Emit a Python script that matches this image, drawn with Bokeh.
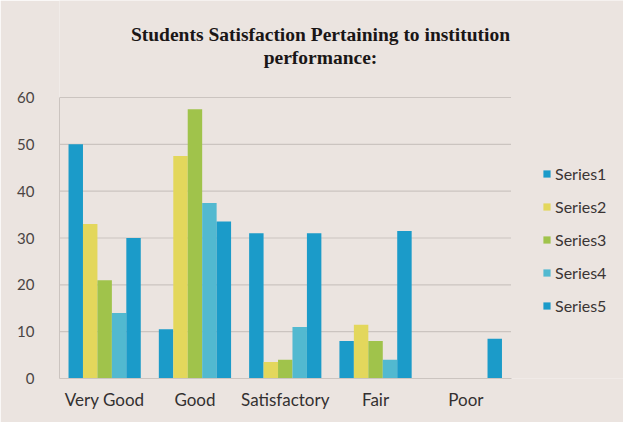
from bokeh.plotting import figure
from bokeh.models import ColumnDataSource, Legend, LegendItem, Label, Range1d, FixedTicker
from bokeh.transform import dodge
from bokeh.embed import file_html
from bokeh.resources import INLINE

categories = ["Very Good", "Good", "Satisfactory", "Fair", "Poor"]
series_names = ["Series1", "Series2", "Series3", "Series4", "Series5"]
series1 = [50, 10.5, 31, 8, 0]
series2 = [33, 47.5, 3.5, 11.5, 0]
series3 = [21, 57.5, 4, 8, 0]
series4 = [14, 37.5, 11, 4, 0]
series5 = [30, 33.5, 31, 31.5, 8.5]
y_ticks = [0, 10, 20, 30, 40, 50, 60]
colors = ["#1b9bc9", "#e3d75c", "#a0c34b", "#52b9d0", "#1b9bc9"]

BG = "#ebe4e0"
GRID = "#cbc4c0"
xi = list(range(len(categories)))
src = ColumnDataSource(dict(xi=xi, s1=series1, s2=series2, s3=series3, s4=series4, s5=series5))

W, H = 623, 422
left, bottom = 59, 44
cat_px = 90.3
y_px = (378 - 97) / 60.0
x_start = -0.5
x_end = x_start + (W - left) / cat_px
y_end = (H - bottom) / y_px

p = figure(width=W, height=H, x_range=Range1d(x_start, x_end), y_range=Range1d(0, y_end),
           output_backend="svg", toolbar_location=None,
           min_border_left=left, min_border_right=0, min_border_top=0, min_border_bottom=bottom)
p.title = None
p.background_fill_color = BG
p.border_fill_color = BG
p.outline_line_color = None
p.xgrid.visible = False
p.ygrid.visible = False

# horizontal gridlines over the category area only
p.segment(x0=x_start, x1=len(categories) - 0.5, y0=y_ticks, y1=y_ticks,
          line_color=GRID, line_width=1.2)

bw = 0.16
offs = [-0.32, -0.16, 0.0, 0.16, 0.32]
renderers = []
for i, key in enumerate(["s1", "s2", "s3", "s4", "s5"]):
    r = p.vbar(x=dodge("xi", offs[i]), top=key, width=bw, source=src,
               fill_color=colors[i], line_color=None)
    renderers.append(r)

p.xaxis.ticker = FixedTicker(ticks=xi)
p.xaxis.major_label_overrides = {i: c for i, c in zip(xi, categories)}
p.xaxis.bounds = (x_start, len(categories) - 0.5)
p.yaxis.ticker = FixedTicker(ticks=y_ticks)
p.yaxis.bounds = (0, 60)

for ax in (p.xaxis[0], p.yaxis[0]):
    ax.major_tick_line_color = None
    ax.minor_tick_line_color = None
    ax.axis_line_color = GRID
p.yaxis.major_label_text_font = "Lato"
p.yaxis.major_label_text_font_size = "15px"
p.yaxis.major_label_text_color = "#4a4444"
p.yaxis.major_label_standoff = 19
p.xaxis.major_label_text_font = "Lato"
p.xaxis.major_label_text_font_size = "17px"
p.xaxis.major_label_text_color = "#333030"
p.xaxis.major_label_standoff = 4

legend = Legend(items=[LegendItem(label=n, renderers=[r]) for n, r in zip(series_names, renderers)],
                location=(483, 63), orientation="vertical",
                glyph_width=9, glyph_height=9, label_height=20, spacing=13, padding=0,
                label_standoff=4, label_text_font="Lato", label_text_font_size="16px",
                label_text_color="#3a3434", border_line_color=None, background_fill_alpha=0,
                margin=0)
p.add_layout(legend, "center")

t1 = Label(x=261, y=344, x_units="screen", y_units="screen",
           text="Students Satisfaction Pertaining to institution",
           text_font="Liberation Serif", text_font_style="bold", text_font_size="19.5px",
           text_align="center", text_baseline="middle", text_color="#1a1616")
t2 = Label(x=261, y=321, x_units="screen", y_units="screen",
           text="performance:",
           text_font="Liberation Serif", text_font_style="bold", text_font_size="19.5px",
           text_align="center", text_baseline="middle", text_color="#1a1616")
p.add_layout(t1)
p.add_layout(t2)

open("out.html", "w").write(file_html(p, INLINE))
